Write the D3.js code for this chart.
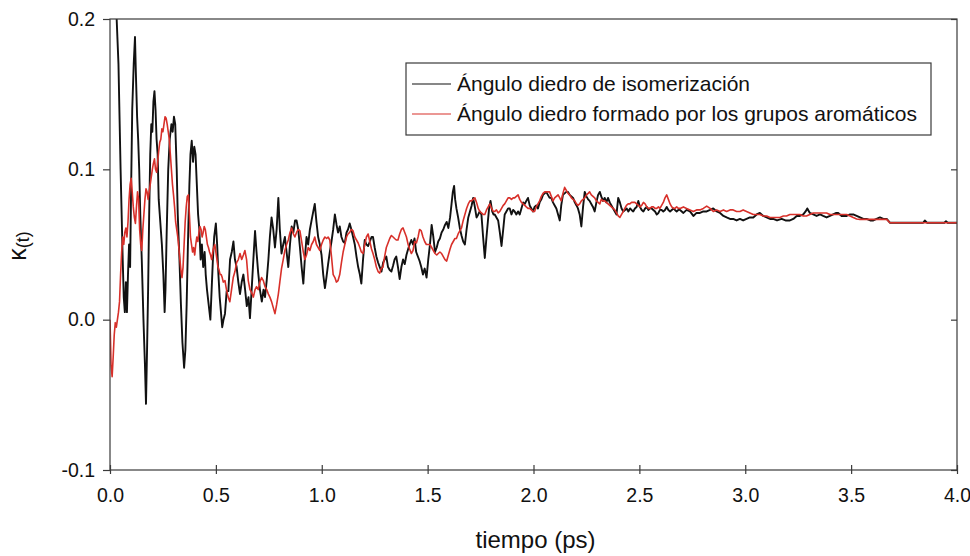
<!DOCTYPE html>
<html>
<head>
<meta charset="utf-8">
<script src="https://cdn.jsdelivr.net/npm/d3@7"></script>
<style>
  body { margin: 0; background: #fff; }
  svg text { font-family: "Liberation Sans", Arial, sans-serif; fill: #111; }
</style>
</head>
<body>
<div id="chart"></div>
<script>
// legend names
const seriesNames = ['Ángulo diedro de isomerización', 'Ángulo diedro formado por los grupos aromáticos'];
const seriesColors = ['#111111', '#d8302a'];

const xTicks = [0.0, 0.5, 1.0, 1.5, 2.0, 2.5, 3.0, 3.5, 4.0];
const yTicks = [-0.1, 0.0, 0.1, 0.2];

// [tiempo (ps), K(t)]
const isomerizacion = [
  [0.000, 0.215], [0.030, 0.205], [0.040, 0.170], [0.050, 0.100], [0.060, 0.040], [0.065, 0.015],
  [0.070, 0.005], [0.075, 0.025], [0.080, 0.005], [0.085, 0.030], [0.090, 0.050], [0.095, 0.035],
  [0.100, 0.090], [0.105, 0.140], [0.112, 0.170], [0.118, 0.188], [0.122, 0.165], [0.128, 0.135],
  [0.133, 0.120], [0.138, 0.100], [0.143, 0.070], [0.150, 0.040], [0.158, 0.000], [0.165, -0.030],
  [0.170, -0.056], [0.175, -0.020], [0.180, 0.020], [0.185, 0.070], [0.190, 0.110], [0.195, 0.130],
  [0.200, 0.125], [0.205, 0.145], [0.210, 0.152], [0.215, 0.140], [0.220, 0.120], [0.225, 0.110],
  [0.230, 0.080], [0.240, 0.060], [0.245, 0.050], [0.252, 0.030], [0.258, 0.005], [0.262, 0.020],
  [0.268, 0.060], [0.275, 0.100], [0.282, 0.120], [0.290, 0.130], [0.296, 0.125], [0.302, 0.135],
  [0.308, 0.130], [0.315, 0.100], [0.320, 0.070], [0.328, 0.040], [0.335, 0.010], [0.342, -0.015],
  [0.350, -0.032], [0.356, -0.020], [0.362, 0.010], [0.368, 0.050], [0.375, 0.090], [0.380, 0.110],
  [0.386, 0.119], [0.392, 0.105], [0.398, 0.115], [0.404, 0.110], [0.410, 0.090], [0.416, 0.070],
  [0.422, 0.060], [0.428, 0.040], [0.434, 0.050], [0.440, 0.035], [0.447, 0.045], [0.452, 0.030],
  [0.458, 0.020], [0.466, 0.010], [0.474, 0.000], [0.480, 0.020], [0.486, 0.040], [0.492, 0.055],
  [0.500, 0.064], [0.506, 0.050], [0.512, 0.030], [0.518, 0.015], [0.524, 0.005], [0.530, -0.005],
  [0.536, 0.000], [0.543, 0.004], [0.551, 0.019], [0.559, 0.019], [0.567, 0.040], [0.575, 0.045],
  [0.583, 0.052], [0.590, 0.040], [0.598, 0.035], [0.606, 0.025], [0.614, 0.017], [0.622, 0.025],
  [0.630, 0.030], [0.638, 0.020], [0.646, 0.009], [0.654, 0.015], [0.661, 0.001], [0.669, 0.020],
  [0.677, 0.040], [0.685, 0.059], [0.692, 0.045], [0.700, 0.031], [0.708, 0.020], [0.717, 0.012],
  [0.725, 0.020], [0.732, 0.015], [0.740, 0.026], [0.748, 0.040], [0.755, 0.055], [0.763, 0.068],
  [0.771, 0.060], [0.779, 0.048], [0.787, 0.060], [0.795, 0.081], [0.802, 0.060], [0.810, 0.044],
  [0.818, 0.050], [0.826, 0.055], [0.834, 0.045], [0.842, 0.035], [0.850, 0.050], [0.858, 0.062],
  [0.866, 0.058], [0.874, 0.066], [0.881, 0.066], [0.889, 0.060], [0.897, 0.048], [0.905, 0.035],
  [0.913, 0.024], [0.920, 0.040], [0.928, 0.055], [0.936, 0.050], [0.944, 0.060], [0.952, 0.066],
  [0.960, 0.072], [0.967, 0.077], [0.975, 0.065], [0.983, 0.055], [0.991, 0.050], [0.999, 0.043],
  [1.007, 0.030], [1.015, 0.021], [1.022, 0.028], [1.030, 0.037], [1.038, 0.045], [1.046, 0.052],
  [1.054, 0.060], [1.062, 0.070], [1.070, 0.063], [1.077, 0.058], [1.085, 0.062], [1.093, 0.055],
  [1.101, 0.052], [1.109, 0.051], [1.117, 0.058], [1.124, 0.060], [1.132, 0.064], [1.140, 0.060],
  [1.148, 0.055], [1.156, 0.050], [1.164, 0.042], [1.172, 0.035], [1.180, 0.030], [1.187, 0.024],
  [1.195, 0.040], [1.203, 0.053], [1.211, 0.050], [1.219, 0.049], [1.227, 0.052], [1.235, 0.055],
  [1.242, 0.055], [1.250, 0.048], [1.258, 0.042], [1.266, 0.038], [1.274, 0.035], [1.282, 0.032],
  [1.290, 0.038], [1.297, 0.040], [1.305, 0.042], [1.313, 0.035], [1.321, 0.033], [1.329, 0.032],
  [1.337, 0.036], [1.344, 0.040], [1.352, 0.042], [1.360, 0.035], [1.368, 0.027], [1.376, 0.035],
  [1.384, 0.040], [1.392, 0.037], [1.400, 0.043], [1.408, 0.047], [1.415, 0.050], [1.423, 0.053],
  [1.431, 0.050], [1.438, 0.054], [1.446, 0.045], [1.454, 0.042], [1.462, 0.039], [1.470, 0.035],
  [1.478, 0.030], [1.486, 0.034], [1.495, 0.028], [1.503, 0.040], [1.511, 0.050], [1.519, 0.063],
  [1.527, 0.055], [1.535, 0.045], [1.543, 0.048], [1.550, 0.052], [1.558, 0.054], [1.566, 0.058],
  [1.574, 0.060], [1.582, 0.063], [1.590, 0.065], [1.598, 0.061], [1.606, 0.068], [1.613, 0.077],
  [1.619, 0.085], [1.625, 0.089], [1.630, 0.080], [1.636, 0.074], [1.644, 0.068], [1.652, 0.061],
  [1.660, 0.056], [1.668, 0.052], [1.676, 0.050], [1.684, 0.060], [1.692, 0.068], [1.700, 0.072],
  [1.708, 0.076], [1.715, 0.081], [1.723, 0.075], [1.731, 0.068], [1.739, 0.070], [1.746, 0.072],
  [1.754, 0.070], [1.762, 0.055], [1.770, 0.041], [1.778, 0.055], [1.785, 0.066], [1.791, 0.075],
  [1.797, 0.079], [1.805, 0.072], [1.811, 0.070], [1.817, 0.070], [1.825, 0.068], [1.833, 0.066],
  [1.841, 0.058], [1.849, 0.049], [1.857, 0.060], [1.864, 0.070], [1.872, 0.072], [1.880, 0.074],
  [1.888, 0.074], [1.896, 0.070], [1.904, 0.073], [1.911, 0.072], [1.919, 0.070], [1.927, 0.072],
  [1.935, 0.070], [1.943, 0.074], [1.951, 0.078], [1.959, 0.077], [1.966, 0.079], [1.974, 0.081],
  [1.982, 0.076], [1.990, 0.074], [1.998, 0.072], [2.005, 0.075], [2.013, 0.076], [2.021, 0.074],
  [2.029, 0.078], [2.037, 0.080], [2.045, 0.083], [2.053, 0.084], [2.060, 0.085], [2.068, 0.083],
  [2.076, 0.081], [2.084, 0.081], [2.092, 0.078], [2.100, 0.076], [2.108, 0.074], [2.116, 0.070],
  [2.124, 0.066], [2.131, 0.076], [2.139, 0.083], [2.147, 0.084], [2.155, 0.085], [2.163, 0.085],
  [2.171, 0.083], [2.179, 0.082], [2.187, 0.081], [2.195, 0.078], [2.203, 0.076], [2.210, 0.074],
  [2.218, 0.070], [2.226, 0.062], [2.234, 0.075], [2.242, 0.085], [2.250, 0.082], [2.258, 0.080],
  [2.265, 0.079], [2.273, 0.077], [2.281, 0.075], [2.289, 0.072], [2.297, 0.078], [2.305, 0.083],
  [2.313, 0.085], [2.320, 0.082], [2.328, 0.079], [2.336, 0.081], [2.344, 0.078], [2.352, 0.081],
  [2.360, 0.078], [2.368, 0.076], [2.376, 0.074], [2.384, 0.072], [2.392, 0.070], [2.400, 0.081],
  [2.408, 0.078], [2.416, 0.074], [2.424, 0.072], [2.432, 0.073], [2.440, 0.074], [2.448, 0.072],
  [2.456, 0.074], [2.463, 0.073], [2.471, 0.072], [2.479, 0.074], [2.487, 0.075], [2.495, 0.079],
  [2.503, 0.075], [2.511, 0.073], [2.519, 0.072], [2.527, 0.074], [2.535, 0.075], [2.543, 0.073],
  [2.550, 0.074], [2.558, 0.074], [2.566, 0.073], [2.574, 0.072], [2.582, 0.070], [2.590, 0.071],
  [2.597, 0.073], [2.605, 0.073], [2.613, 0.072], [2.621, 0.073], [2.629, 0.075], [2.637, 0.073],
  [2.645, 0.072], [2.653, 0.073], [2.661, 0.074], [2.668, 0.073], [2.676, 0.072], [2.684, 0.073],
  [2.692, 0.073], [2.708, 0.071], [2.723, 0.073], [2.739, 0.072], [2.755, 0.069], [2.770, 0.071],
  [2.786, 0.071], [2.802, 0.072], [2.818, 0.072], [2.834, 0.073], [2.849, 0.074], [2.865, 0.072],
  [2.881, 0.071], [2.897, 0.069], [2.912, 0.068], [2.928, 0.067], [2.943, 0.067], [2.959, 0.066],
  [2.975, 0.067], [2.990, 0.066], [3.006, 0.067], [3.022, 0.068], [3.038, 0.068], [3.054, 0.070],
  [3.069, 0.071], [3.085, 0.069], [3.101, 0.068], [3.117, 0.067], [3.132, 0.067], [3.150, 0.066],
  [3.172, 0.067], [3.190, 0.066], [3.211, 0.066], [3.227, 0.067], [3.243, 0.069], [3.258, 0.069],
  [3.274, 0.070], [3.285, 0.072], [3.293, 0.074], [3.305, 0.071], [3.321, 0.070], [3.337, 0.069],
  [3.353, 0.070], [3.368, 0.069], [3.384, 0.068], [3.400, 0.069], [3.415, 0.070], [3.430, 0.071],
  [3.439, 0.071], [3.455, 0.069], [3.479, 0.069], [3.495, 0.070], [3.510, 0.070], [3.526, 0.069],
  [3.542, 0.068], [3.558, 0.067], [3.573, 0.067], [3.590, 0.066], [3.605, 0.066], [3.620, 0.067],
  [3.636, 0.068], [3.652, 0.067], [3.668, 0.067], [3.683, 0.0645], [3.840, 0.0645], [3.848, 0.0660],
  [3.858, 0.0645], [3.940, 0.0645], [3.948, 0.0655], [3.956, 0.0645], [4.000, 0.0645]
];

const aromaticos = [
  [0.000, 0.000], [0.005, -0.030], [0.010, -0.038], [0.015, -0.025], [0.020, -0.010], [0.025, -0.002],
  [0.030, -0.005], [0.035, 0.000], [0.040, 0.005], [0.045, 0.012], [0.050, 0.030], [0.055, 0.045],
  [0.060, 0.055], [0.065, 0.050], [0.070, 0.058], [0.075, 0.061], [0.080, 0.055], [0.085, 0.065],
  [0.090, 0.080], [0.095, 0.090], [0.100, 0.094], [0.105, 0.085], [0.110, 0.075], [0.115, 0.068],
  [0.120, 0.064], [0.125, 0.075], [0.130, 0.085], [0.135, 0.080], [0.140, 0.060], [0.145, 0.050],
  [0.150, 0.046], [0.155, 0.060], [0.160, 0.070], [0.165, 0.080], [0.170, 0.087], [0.175, 0.085],
  [0.180, 0.080], [0.185, 0.085], [0.190, 0.090], [0.195, 0.095], [0.200, 0.100], [0.205, 0.104],
  [0.210, 0.107], [0.215, 0.100], [0.220, 0.098], [0.225, 0.105], [0.230, 0.112], [0.235, 0.118],
  [0.240, 0.120], [0.245, 0.127], [0.250, 0.125], [0.255, 0.130], [0.260, 0.135], [0.265, 0.134],
  [0.270, 0.130], [0.275, 0.125], [0.280, 0.120], [0.285, 0.110], [0.290, 0.100], [0.295, 0.090],
  [0.300, 0.083], [0.305, 0.075], [0.310, 0.065], [0.315, 0.060], [0.320, 0.055], [0.325, 0.048],
  [0.330, 0.040], [0.335, 0.033], [0.340, 0.028], [0.345, 0.035], [0.350, 0.050], [0.355, 0.065],
  [0.360, 0.075], [0.365, 0.082], [0.370, 0.083], [0.375, 0.070], [0.380, 0.055], [0.385, 0.050],
  [0.390, 0.045], [0.395, 0.048], [0.400, 0.043], [0.405, 0.050], [0.410, 0.055], [0.415, 0.052],
  [0.420, 0.058], [0.425, 0.062], [0.430, 0.060], [0.435, 0.055], [0.440, 0.058], [0.445, 0.062],
  [0.450, 0.060], [0.455, 0.055], [0.460, 0.050], [0.465, 0.048], [0.470, 0.045], [0.475, 0.043],
  [0.480, 0.040], [0.485, 0.045], [0.490, 0.048], [0.495, 0.050], [0.500, 0.045], [0.505, 0.040],
  [0.510, 0.035], [0.515, 0.033], [0.520, 0.030], [0.525, 0.030], [0.530, 0.028], [0.535, 0.025],
  [0.543, 0.026], [0.550, 0.020], [0.558, 0.015], [0.566, 0.012], [0.574, 0.020], [0.582, 0.028],
  [0.590, 0.032], [0.598, 0.038], [0.606, 0.040], [0.614, 0.044], [0.622, 0.040], [0.630, 0.043],
  [0.637, 0.046], [0.645, 0.040], [0.653, 0.026], [0.661, 0.020], [0.669, 0.018], [0.677, 0.015],
  [0.685, 0.020], [0.692, 0.022], [0.700, 0.020], [0.708, 0.025], [0.716, 0.028], [0.724, 0.026],
  [0.732, 0.022], [0.740, 0.020], [0.748, 0.017], [0.755, 0.015], [0.763, 0.012], [0.771, 0.008],
  [0.779, 0.004], [0.787, 0.010], [0.795, 0.017], [0.802, 0.025], [0.810, 0.034], [0.818, 0.040],
  [0.826, 0.046], [0.834, 0.050], [0.842, 0.053], [0.850, 0.058], [0.858, 0.061], [0.866, 0.057],
  [0.873, 0.055], [0.881, 0.058], [0.889, 0.060], [0.897, 0.059], [0.905, 0.052], [0.913, 0.045],
  [0.920, 0.040], [0.928, 0.043], [0.936, 0.048], [0.944, 0.046], [0.952, 0.050], [0.960, 0.052],
  [0.967, 0.055], [0.975, 0.050], [0.983, 0.048], [0.991, 0.046], [0.999, 0.050], [1.007, 0.053],
  [1.015, 0.055], [1.023, 0.054], [1.030, 0.055], [1.038, 0.053], [1.046, 0.042], [1.054, 0.030],
  [1.062, 0.028], [1.069, 0.025], [1.077, 0.026], [1.085, 0.030], [1.093, 0.038], [1.101, 0.045],
  [1.109, 0.050], [1.117, 0.055], [1.124, 0.057], [1.132, 0.058], [1.140, 0.060], [1.148, 0.059],
  [1.156, 0.055], [1.164, 0.053], [1.172, 0.051], [1.180, 0.048], [1.187, 0.045], [1.195, 0.044],
  [1.203, 0.050], [1.211, 0.055], [1.219, 0.057], [1.227, 0.052], [1.235, 0.047], [1.242, 0.044],
  [1.250, 0.040], [1.258, 0.035], [1.266, 0.032], [1.274, 0.031], [1.281, 0.034], [1.289, 0.035],
  [1.297, 0.042], [1.305, 0.048], [1.313, 0.051], [1.321, 0.054], [1.329, 0.056], [1.337, 0.055],
  [1.344, 0.054], [1.352, 0.053], [1.360, 0.053], [1.368, 0.057], [1.376, 0.060], [1.384, 0.061],
  [1.392, 0.058], [1.400, 0.055], [1.408, 0.050], [1.415, 0.047], [1.423, 0.044], [1.431, 0.046],
  [1.439, 0.052], [1.447, 0.051], [1.455, 0.055], [1.462, 0.060], [1.470, 0.059], [1.478, 0.055],
  [1.486, 0.052], [1.494, 0.050], [1.502, 0.050], [1.511, 0.050], [1.519, 0.048], [1.527, 0.046],
  [1.535, 0.044], [1.543, 0.043], [1.550, 0.044], [1.558, 0.045], [1.566, 0.044], [1.574, 0.042],
  [1.582, 0.040], [1.590, 0.039], [1.598, 0.043], [1.606, 0.047], [1.613, 0.050], [1.621, 0.052],
  [1.629, 0.054], [1.636, 0.054], [1.644, 0.057], [1.652, 0.059], [1.660, 0.061], [1.668, 0.066],
  [1.676, 0.070], [1.684, 0.074], [1.692, 0.077], [1.700, 0.079], [1.707, 0.079], [1.715, 0.080],
  [1.723, 0.081], [1.731, 0.078], [1.739, 0.074], [1.746, 0.072], [1.754, 0.071], [1.762, 0.070],
  [1.770, 0.070], [1.778, 0.073], [1.786, 0.075], [1.794, 0.077], [1.802, 0.074], [1.810, 0.072],
  [1.817, 0.072], [1.825, 0.073], [1.833, 0.071], [1.841, 0.072], [1.849, 0.074], [1.857, 0.076],
  [1.864, 0.077], [1.872, 0.079], [1.880, 0.081], [1.888, 0.081], [1.896, 0.080], [1.904, 0.081],
  [1.911, 0.081], [1.919, 0.082], [1.927, 0.083], [1.935, 0.080], [1.943, 0.078], [1.951, 0.077],
  [1.959, 0.076], [1.966, 0.075], [1.974, 0.074], [1.982, 0.074], [1.990, 0.073], [1.998, 0.072],
  [2.005, 0.072], [2.013, 0.075], [2.021, 0.077], [2.029, 0.079], [2.037, 0.082], [2.045, 0.084],
  [2.053, 0.085], [2.060, 0.085], [2.068, 0.085], [2.076, 0.085], [2.084, 0.082], [2.092, 0.079],
  [2.100, 0.081], [2.108, 0.082], [2.116, 0.083], [2.124, 0.081], [2.131, 0.079], [2.139, 0.084],
  [2.147, 0.088], [2.155, 0.086], [2.163, 0.084], [2.171, 0.083], [2.179, 0.081], [2.187, 0.080],
  [2.195, 0.079], [2.203, 0.077], [2.210, 0.076], [2.218, 0.077], [2.226, 0.079], [2.234, 0.080],
  [2.242, 0.081], [2.250, 0.083], [2.258, 0.084], [2.265, 0.085], [2.273, 0.083], [2.281, 0.082],
  [2.289, 0.081], [2.297, 0.079], [2.305, 0.078], [2.313, 0.077], [2.320, 0.080], [2.328, 0.079],
  [2.336, 0.079], [2.344, 0.078], [2.352, 0.077], [2.360, 0.076], [2.368, 0.075], [2.376, 0.074],
  [2.384, 0.073], [2.392, 0.071], [2.400, 0.069], [2.408, 0.068], [2.416, 0.070], [2.424, 0.072],
  [2.431, 0.074], [2.439, 0.076], [2.447, 0.077], [2.455, 0.077], [2.463, 0.078], [2.471, 0.078],
  [2.479, 0.078], [2.487, 0.077], [2.495, 0.076], [2.503, 0.075], [2.511, 0.076], [2.519, 0.078],
  [2.527, 0.077], [2.535, 0.075], [2.543, 0.074], [2.550, 0.074], [2.558, 0.075], [2.566, 0.075],
  [2.574, 0.074], [2.582, 0.074], [2.590, 0.075], [2.597, 0.074], [2.605, 0.076], [2.613, 0.078],
  [2.621, 0.081], [2.629, 0.083], [2.637, 0.080], [2.645, 0.077], [2.653, 0.075], [2.661, 0.074],
  [2.668, 0.074], [2.676, 0.075], [2.684, 0.074], [2.692, 0.074], [2.708, 0.075], [2.723, 0.074],
  [2.739, 0.073], [2.755, 0.072], [2.770, 0.073], [2.786, 0.073], [2.802, 0.074], [2.818, 0.0755],
  [2.834, 0.074], [2.849, 0.072], [2.865, 0.073], [2.881, 0.072], [2.897, 0.073], [2.912, 0.072],
  [2.928, 0.073], [2.943, 0.073], [2.959, 0.072], [2.975, 0.072], [2.990, 0.073], [3.006, 0.072],
  [3.022, 0.071], [3.038, 0.070], [3.054, 0.070], [3.069, 0.070], [3.085, 0.069], [3.101, 0.069],
  [3.117, 0.068], [3.132, 0.068], [3.148, 0.068], [3.164, 0.068], [3.180, 0.069], [3.195, 0.069],
  [3.211, 0.070], [3.227, 0.070], [3.243, 0.070], [3.258, 0.070], [3.274, 0.069], [3.289, 0.069],
  [3.305, 0.070], [3.321, 0.071], [3.337, 0.071], [3.353, 0.071], [3.368, 0.071], [3.384, 0.071],
  [3.400, 0.070], [3.415, 0.070], [3.431, 0.070], [3.447, 0.070], [3.463, 0.070], [3.479, 0.070],
  [3.495, 0.069], [3.510, 0.068], [3.526, 0.067], [3.542, 0.0667], [3.573, 0.0667], [3.605, 0.0667],
  [3.636, 0.0667], [3.668, 0.0667], [3.683, 0.0645], [4.000, 0.0645]
];

const margin = { top: 19, right: 13, bottom: 86, left: 110 };
const width = 970 - margin.left - margin.right;
const height = 556 - margin.top - margin.bottom;

const svg = d3.select('#chart')
  .append('svg')
  .attr('width', 970)
  .attr('height', 556);

const g = svg.append('g')
  .attr('transform', `translate(${margin.left},${margin.top})`);

const x = d3.scaleLinear().domain([0, 4]).range([0, width]);
const y = d3.scaleLinear().domain([-0.1, 0.2]).range([height, 0]);

// plain hyphen for the minus sign, like the original
const tickFmt = d => d3.format('.1f')(d).replace('−', '-');

g.append('clipPath')
  .attr('id', 'plot-clip')
  .append('rect')
  .attr('width', width)
  .attr('height', height);

const line = d3.line()
  .x(d => x(d[0]))
  .y(d => y(d[1]));

// curves: black first, red on top
const plot = g.append('g').attr('clip-path', 'url(#plot-clip)');
[isomerizacion, aromaticos].forEach((data, i) => {
  plot.append('path')
    .datum(data)
    .attr('fill', 'none')
    .attr('stroke', seriesColors[i])
    .attr('stroke-width', i === 0 ? 1.9 : 1.6)
    .attr('stroke-linejoin', 'round')
    .attr('d', line);
});

// frame
const axisColor = '#3a3a3a';
g.append('rect')
  .attr('width', width)
  .attr('height', height)
  .attr('fill', 'none')
  .attr('stroke', axisColor)
  .attr('stroke-width', 1.2);

// bottom axis, ticks cross the line
const xAxis = g.append('g')
  .attr('transform', `translate(0,${height})`)
  .call(d3.axisBottom(x).tickValues(xTicks).tickFormat(tickFmt).tickSize(4).tickPadding(14));
xAxis.select('.domain').remove();
xAxis.selectAll('.tick line').attr('y1', -5).attr('stroke', axisColor).attr('stroke-width', 1.2);
xAxis.selectAll('.tick text').attr('font-size', 19.5).attr('fill', '#111');

// left axis, ticks outward
const yAxis = g.append('g')
  .call(d3.axisLeft(y).tickValues(yTicks).tickFormat(tickFmt).tickSize(7).tickPadding(8));
yAxis.select('.domain').remove();
yAxis.selectAll('.tick line').attr('stroke', axisColor).attr('stroke-width', 1.2);
yAxis.selectAll('.tick text').attr('font-size', 19.5).attr('fill', '#111');

// right side, ticks inward
const yRight = g.append('g')
  .attr('transform', `translate(${width},0)`)
  .call(d3.axisRight(y).tickValues(yTicks).tickSize(-6).tickFormat(''));
yRight.select('.domain').remove();
yRight.selectAll('.tick line').attr('stroke', axisColor).attr('stroke-width', 1.2);

// axis titles
svg.append('text')
  .attr('x', margin.left + x(2.0) + 2)
  .attr('y', 548)
  .attr('text-anchor', 'middle')
  .attr('font-size', 24)
  .text('tiempo (ps)');

const yTitle = svg.append('text')
  .attr('transform', 'translate(26,246) rotate(-90)')
  .attr('text-anchor', 'middle')
  .attr('font-size', 25);
yTitle.append('tspan').text('κ');
yTitle.append('tspan').attr('font-size', 18).attr('dy', 3).text('(t)');

// legend
const legend = svg.append('g').attr('transform', 'translate(406,63)');
legend.append('rect')
  .attr('width', 525)
  .attr('height', 72)
  .attr('fill', '#fff')
  .attr('stroke', axisColor)
  .attr('stroke-width', 1.2);

seriesNames.forEach((name, i) => {
  const row = legend.append('g').attr('transform', `translate(0,${21 + i * 30})`);
  row.append('line')
    .attr('x1', 6).attr('x2', 45)
    .attr('stroke', seriesColors[i])
    .attr('stroke-width', 1.2);
  row.append('text')
    .attr('x', 51)
    .attr('y', 7)
    .attr('font-size', 21)
    .text(name);
});
</script>
</body>
</html>
